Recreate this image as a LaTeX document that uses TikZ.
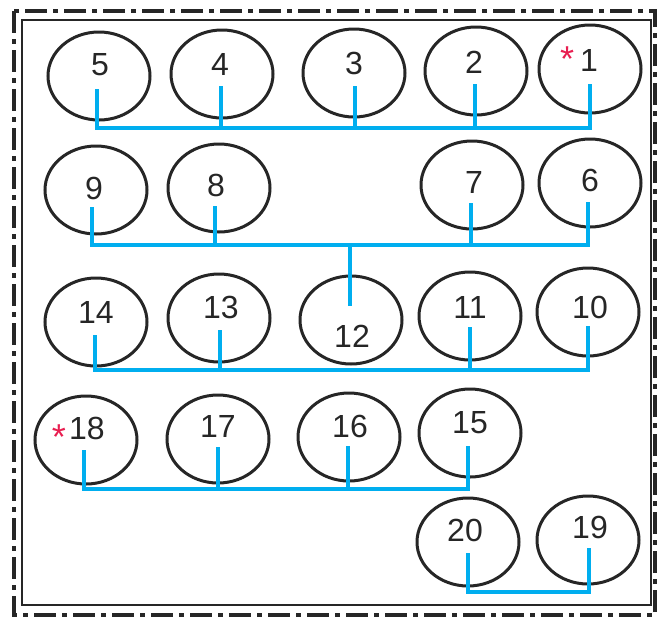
\documentclass[tikz,border=0pt]{standalone}
\usepackage{fontspec}
\setmainfont{Liberation Sans}
\usetikzlibrary{shapes.geometric}
\definecolor{busblue}{RGB}{0,174,239}
\definecolor{starred}{RGB}{232,30,80}
\begin{document}
\begin{tikzpicture}[x=1pt,y=-1pt,
  seat/.style={ellipse,draw=black!85,line width=3pt,minimum width=102pt,minimum height=88pt,inner sep=0pt},
  num/.style={font=\fontsize{32}{32}\selectfont,text=black!85,inner sep=0pt},
  star/.style={font=\fontsize{36}{36}\selectfont,text=starred,inner sep=0pt,anchor=base},
  bus/.style={draw=busblue,line width=3.6pt,line cap=butt,line join=miter},
  outerframe/.style={draw=black!85,line width=4pt,dash pattern=on 22pt off 6pt on 5pt off 6pt},
  innerframe/.style={draw=black!85,line width=2.8pt}]
\useasboundingbox (0,0) rectangle (658,619);
\draw[outerframe] (14,11) rectangle (655,615);
\draw[innerframe] (22,20) rectangle (651,605);
% seats
\node[seat] (c5) at (99,76) {};
\node[seat] (c4) at (222,74) {};
\node[seat] (c3) at (354,73) {};
\node[seat] (c2) at (476,71) {};
\node[seat] (c1) at (590,69) {};
\node[seat] (c9) at (96,190) {};
\node[seat] (c8) at (219,188) {};
\node[seat] (c7) at (472,185) {};
\node[seat] (c6) at (590,183) {};
\node[seat] (c14) at (96,322) {};
\node[seat] (c13) at (219,318) {};
\node[seat] (c12) at (351,320) {};
\node[seat] (c11) at (470,316) {};
\node[seat] (c10) at (588,312) {};
\node[seat] (c18) at (86,440) {};
\node[seat] (c17) at (218,439) {};
\node[seat] (c16) at (349,437) {};
\node[seat] (c15) at (470,433) {};
\node[seat] (c20) at (468,542) {};
\node[seat] (c19) at (588,540) {};
% numbers
\node[num] (n5) at (100,65) {5};
\node[num] (n4) at (220,64) {4};
\node[num] (n3) at (354,63) {3};
\node[num] (n2) at (474,62) {2};
\node[num] (n1) at (589,60) {1};
\node[num] (n9) at (94,188) {9};
\node[num] (n8) at (216,185) {8};
\node[num] (n7) at (474,182) {7};
\node[num] (n6) at (590,180) {6};
\node[num] (n14) at (96,312) {14};
\node[num] (n13) at (221,307) {13};
\node[num] (n12) at (352,336) {12};
\node[num] (n11) at (470,307) {11};
\node[num] (n10) at (590,307) {10};
\node[num] (n18) at (87,428) {18};
\node[num] (n17) at (218,426) {17};
\node[num] (n16) at (350,426) {16};
\node[num] (n15) at (470,423) {15};
\node[num] (n20) at (465,530) {20};
\node[num] (n19) at (590,527) {19};
% asterisks
\node[star] (s1) at (567,71) {*};
\node[star] (s18) at (59,449) {*};
% stub tops
\coordinate (t5) at (97,89);
\coordinate (t4) at (221,86);
\coordinate (t3) at (355,86);
\coordinate (t2) at (475,84);
\coordinate (t1) at (590,84);
\coordinate (t9) at (92,207);
\coordinate (t8) at (215,206);
\coordinate (t7) at (471,203);
\coordinate (t6) at (588,202);
\coordinate (t12) at (350,306);
\coordinate (t14) at (95,335);
\coordinate (t13) at (220,330);
\coordinate (t11) at (470,327);
\coordinate (t10) at (588,326);
\coordinate (t18) at (84,450);
\coordinate (t17) at (218,447);
\coordinate (t16) at (348,446);
\coordinate (t15) at (468,446);
\coordinate (t20) at (468,553);
\coordinate (t19) at (589,548);
% bus levels
\coordinate (r1) at (0,128);
\coordinate (r2) at (0,245);
\coordinate (r3) at (0,370);
\coordinate (r4) at (0,489);
\coordinate (r5) at (0,592);
% row 1
\draw[bus] (t5) -- (t5 |- r1) -- (t1 |- r1) -- (t1);
\draw[bus] (t4) -- (t4 |- r1);
\draw[bus] (t3) -- (t3 |- r1);
\draw[bus] (t2) -- (t2 |- r1);
% row 2
\draw[bus] (t9) -- (t9 |- r2) -- (t6 |- r2) -- (t6);
\draw[bus] (t8) -- (t8 |- r2);
\draw[bus] (t7) -- (t7 |- r2);
\draw[bus] (t12 |- r2) -- (t12);
% row 3
\draw[bus] (t14) -- (t14 |- r3) -- (t10 |- r3) -- (t10);
\draw[bus] (t13) -- (t13 |- r3);
\draw[bus] (t11) -- (t11 |- r3);
% row 4
\draw[bus] (t18) -- (t18 |- r4) -- (t15 |- r4) -- (t15);
\draw[bus] (t17) -- (t17 |- r4);
\draw[bus] (t16) -- (t16 |- r4);
% row 5
\draw[bus] (t20) -- (t20 |- r5) -- (t19 |- r5) -- (t19);
\end{tikzpicture}
\end{document}
